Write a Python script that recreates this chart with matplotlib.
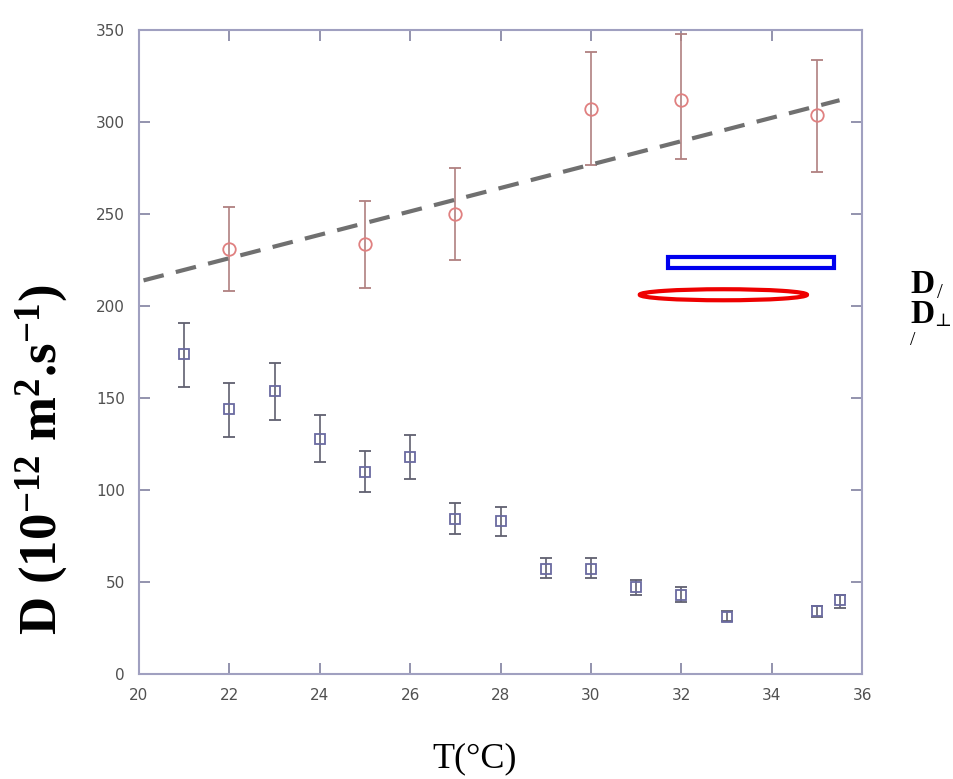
import numpy as np
import matplotlib
matplotlib.use('Agg')
import matplotlib.pyplot as plt
from matplotlib.patches import Rectangle, Ellipse

plt.rcParams["mathtext.fontset"] = "custom"
plt.rcParams["mathtext.bf"] = "Liberation Serif:bold"
plt.rcParams["mathtext.rm"] = "Liberation Serif"
plt.rcParams["mathtext.it"] = "Liberation Serif:italic"

# D parallel (red circles)
t_par = [22, 25, 27, 30, 32, 35]
d_par = [231, 234, 250, 307, 312, 304]
d_par_lo = [208, 210, 225, 277, 280, 273]
d_par_hi = [254, 257, 275, 338, 348, 334]

# D perpendicular (blue squares)
t_perp = [21, 22, 23, 24, 25, 26, 27, 28, 29, 30, 31, 32, 33, 35, 35.5]
d_perp = [174, 144, 154, 128, 110, 118, 84, 83, 57, 57, 47, 43, 31, 34, 40]
d_perp_lo = [156, 129, 138, 115, 99, 106, 76, 75, 52, 52, 43, 39, 29, 31, 36]
d_perp_hi = [191, 158, 169, 141, 121, 130, 93, 91, 63, 63, 51, 47, 34, 37, 43]

# dashed trend line
fit_x = [20.1, 35.5]
fit_y = [214, 312]

xticks = [20, 22, 24, 26, 28, 30, 32, 34, 36]
yticks = [0, 50, 100, 150, 200, 250, 300, 350]

fig = plt.figure(figsize=(9.54, 7.79), dpi=100)
ax = fig.add_axes([0.1457, 0.135, 0.758, 0.826])

spine_col = "#a0a0c0"
for s in ax.spines.values():
    s.set_color(spine_col)
    s.set_linewidth(1.5)

yerr_par = [np.array(d_par) - np.array(d_par_lo), np.array(d_par_hi) - np.array(d_par)]
ax.errorbar(t_par, d_par, yerr=yerr_par, fmt="o", ms=9, mfc="none", mec="#e08080",
            mew=1.3, ecolor="#b08080", elinewidth=1.2, capsize=4, capthick=1.2)

yerr_perp = [np.array(d_perp) - np.array(d_perp_lo), np.array(d_perp_hi) - np.array(d_perp)]
ax.errorbar(t_perp, d_perp, yerr=yerr_perp, fmt="s", ms=7.5, mfc="none", mec="#6a6aa0",
            mew=1.3, ecolor="#606070", elinewidth=1.2, capsize=4, capthick=1.2)

ax.plot(fit_x, fit_y, color="#707070", lw=3, dashes=(5, 3))

# legend-like shapes
ax.add_patch(Rectangle((31.7, 220.5), 3.68, 6.3, fill=False, ec="#0000ee", lw=3))
ax.add_patch(Ellipse((32.93, 206.2), 3.7, 6.0, fill=False, ec="#ee0000", lw=3))

ax.set_xlim(20, 36)
ax.set_ylim(0, 350)
ax.set_xticks(xticks)
ax.set_yticks(yticks)
ax.tick_params(direction="in", top=True, right=True, length=8, width=1.2,
               color="#8080a0", labelsize=11, labelcolor="#505050", pad=10)

fig.text(0.498, 0.026, "T(\u00b0C)", family="Liberation Serif", fontsize=26,
         ha="center", va="center")
fig.text(0.044, 0.41, r"D (10$^{\mathbf{-12}}$ m$^{\mathbf{2}}$.s$^{\mathbf{-1}}$)",
         family="Liberation Serif", fontweight="bold", fontsize=38,
         rotation=90, ha="center", va="center")

fig.text(0.954, 0.624, "D", family="Liberation Serif", fontweight="bold", fontsize=24)
fig.text(0.982, 0.617, "/", family="Liberation Serif", fontsize=15)
fig.text(0.954, 0.585, "D", family="Liberation Serif", fontweight="bold", fontsize=24)
fig.text(0.979, 0.582, "\u22a5", family="DejaVu Serif", fontsize=13)
fig.text(0.954, 0.574, "/", family="Liberation Serif", fontsize=14, va="top")

plt.savefig("out.png", dpi=100)
